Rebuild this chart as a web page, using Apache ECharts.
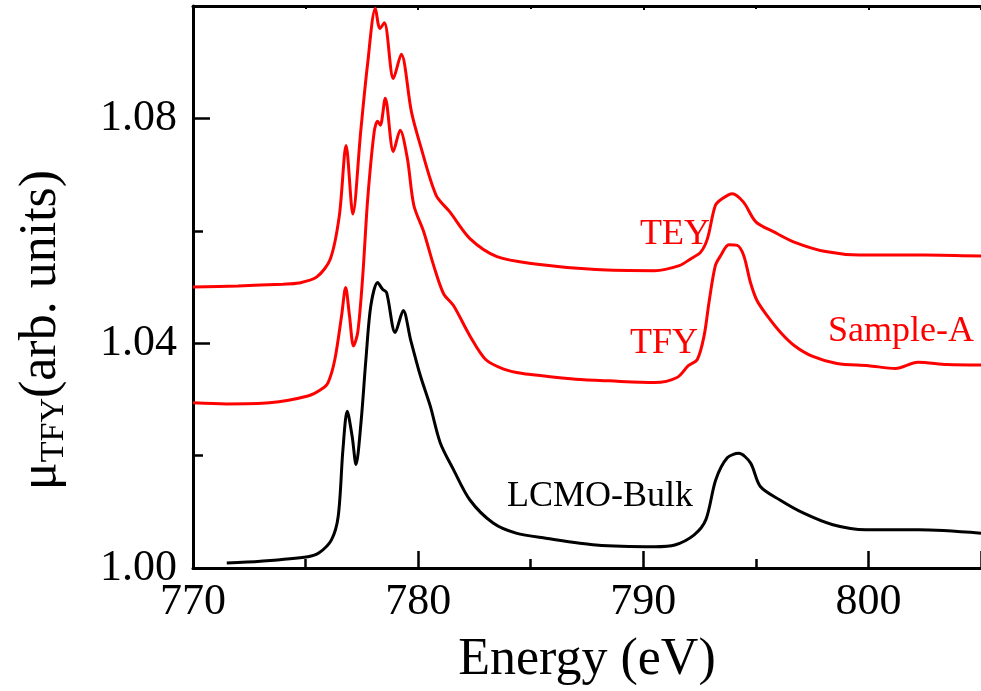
<!DOCTYPE html>
<html>
<head>
<meta charset="utf-8">
<script src="https://cdn.jsdelivr.net/npm/echarts@6/dist/echarts.min.js"></script>
<style>
  html, body { margin: 0; padding: 0; background: #fff; }
  #chart { width: 981px; height: 691px; }
</style>
</head>
<body>
<div id="chart"></div>
<script>
// TEY (sample-A)
var teyEnergy = [770.0, 772.0, 774.0, 774.7, 775.5, 776.1, 776.5, 776.8, 777.1, 777.45, 777.75, 778.1, 778.3, 778.5, 778.9, 779.25, 779.7, 780.1, 780.8, 781.4, 782.3, 783.5, 785.2, 787.9, 790.5, 791.6, 792.1, 792.55, 792.85, 793.2, 793.5, 793.95, 794.45, 795.0, 795.8, 796.7, 798.1, 799.6, 802.5, 805.0];
var teyMu = [1.0500, 1.0502, 1.0505, 1.0507, 1.0518, 1.0550, 1.0627, 1.0752, 1.0630, 1.0777, 1.0895, 1.0996, 1.0960, 1.0970, 1.0871, 1.0914, 1.0812, 1.0752, 1.0663, 1.0634, 1.0586, 1.0554, 1.0541, 1.0531, 1.0529, 1.0538, 1.0550, 1.0562, 1.0586, 1.0645, 1.0657, 1.0666, 1.0651, 1.0616, 1.0598, 1.0580, 1.0563, 1.0557, 1.0557, 1.0555];

// TFY (sample-A)
var tfyEnergy = [770.0, 771.5, 773.4, 775.1, 775.7, 776.0, 776.3, 776.6, 776.78, 776.95, 777.13, 777.32, 777.54, 777.76, 778.05, 778.2, 778.32, 778.54, 778.9, 779.2, 779.52, 779.81, 780.25, 780.69, 781.13, 781.57, 782.3, 783.0, 783.8, 784.65, 785.5, 787.0, 788.5, 790.5, 791.5, 792.0, 792.4, 792.7, 792.92, 793.2, 793.44, 793.8, 794.17, 794.46, 794.76, 795.05, 795.5, 796.1, 796.7, 797.5, 798.6, 800.0, 801.2, 802.2, 803.5, 805.0];
var tfyMu = [1.0294, 1.0292, 1.0294, 1.0306, 1.0318, 1.0330, 1.0371, 1.0449, 1.0499, 1.0449, 1.0395, 1.0420, 1.0520, 1.0657, 1.0777, 1.0795, 1.0788, 1.0836, 1.0741, 1.0779, 1.0729, 1.0645, 1.0598, 1.0538, 1.0488, 1.0467, 1.0413, 1.0371, 1.0354, 1.0346, 1.0342, 1.0336, 1.0333, 1.0330, 1.0339, 1.0360, 1.0371, 1.0413, 1.0473, 1.0538, 1.0556, 1.0575, 1.0574, 1.0556, 1.0508, 1.0476, 1.0449, 1.0419, 1.0396, 1.0377, 1.0364, 1.0360, 1.0355, 1.0366, 1.0362, 1.0361];

// LCMO bulk
var bulkEnergy = [771.5, 773.0, 775.1, 775.6, 776.15, 776.45, 776.66, 776.85, 777.07, 777.24, 777.46, 777.68, 777.9, 778.2, 778.42, 778.6, 778.98, 779.34, 779.66, 780.1, 780.54, 780.98, 781.57, 782.3, 783.33, 784.35, 785.67, 787.9, 790.5, 791.4, 792.26, 792.78, 793.22, 793.73, 794.24, 794.76, 795.2, 796.07, 797.1, 798.42, 799.88, 802.23, 805.0];
var bulkMu = [1.0009, 1.0012, 1.0020, 1.0027, 1.0050, 1.0092, 1.0211, 1.0279, 1.0234, 1.0184, 1.0258, 1.0371, 1.0467, 1.0508, 1.0496, 1.0490, 1.0419, 1.0458, 1.0407, 1.0342, 1.0288, 1.0223, 1.0175, 1.0121, 1.0080, 1.0062, 1.0053, 1.0041, 1.0038, 1.0041, 1.0059, 1.0086, 1.0157, 1.0196, 1.0204, 1.0187, 1.0145, 1.0121, 1.0098, 1.0077, 1.0068, 1.0068, 1.0062];

var xTicks = [770, 780, 790, 800];
var yTicks = [1.00, 1.04, 1.08];

function pairs(xs, ys) {
    return xs.map(function (x, i) { return [x, ys[i]]; });
}

var FONT = "'Liberation Serif', 'Times New Roman', serif";
var RED = '#ff0000';

var myChart = echarts.init(document.getElementById('chart'), null, {renderer: 'canvas'});
var option = {
    animation: false,
    backgroundColor: '#ffffff',
    grid: {
        left: 193,
        top: 6,
        right: -9,
        bottom: 122
    },
    xAxis: [{
        type: 'value',
        min: 770,
        max: 805,
        interval: 10,
        name: 'Energy (eV)',
        nameLocation: 'middle',
        nameGap: 66,
        nameTextStyle: {fontFamily: FONT, fontSize: 52, color: '#000'},
        axisLine: {lineStyle: {color: '#000', width: 3}},
        axisTick: {inside: true, length: 17, lineStyle: {color: '#000', width: 2.5}},
        minorTick: {show: true, splitNumber: 2, length: 9, lineStyle: {color: '#000', width: 2.5}},
        splitLine: {show: false},
        axisLabel: {
            fontFamily: FONT, fontSize: 44, color: '#000', margin: 12,
            showMaxLabel: false,
            formatter: function (v) { return xTicks.indexOf(v) >= 0 ? String(v) : ''; }
        }
    }, {
        // top frame
        type: 'value',
        position: 'top',
        min: 770,
        max: 805,
        interval: 10,
        axisLine: {lineStyle: {color: '#000', width: 3}},
        axisTick: {inside: true, length: 4, lineStyle: {color: '#000', width: 2}},
        minorTick: {show: true, splitNumber: 2, length: 3, lineStyle: {color: '#000', width: 2}},
        splitLine: {show: false},
        axisLabel: {show: false}
    }],
    yAxis: [{
        type: 'value',
        min: 1.00,
        max: 1.10,
        interval: 0.04,
        name: '{mu|μ}{sub|TFY}{main|(arb. units)}',
        nameLocation: 'middle',
        nameGap: 122,
        nameRotate: 90,
        nameTextStyle: {
            padding: [0, 86, 0, 0],
            rich: {
                mu: {fontFamily: FONT, fontSize: 52, color: '#000', lineHeight: 60, verticalAlign: 'middle'},
                sub: {fontFamily: FONT, fontSize: 34, color: '#000', lineHeight: 20, verticalAlign: 'bottom'},
                main: {fontFamily: FONT, fontSize: 52, color: '#000', lineHeight: 60, verticalAlign: 'middle'}
            }
        },
        axisLine: {show: true, lineStyle: {color: '#000', width: 3}},
        axisTick: {show: true, inside: true, length: 17, lineStyle: {color: '#000', width: 2.5}},
        minorTick: {show: true, splitNumber: 2, length: 10, lineStyle: {color: '#000', width: 2.5}},
        splitLine: {show: false},
        axisLabel: {
            fontFamily: FONT, fontSize: 44, color: '#000', margin: 16,
            showMaxLabel: false,
            formatter: function (v) {
                var s = v.toFixed(2);
                return yTicks.map(function (t) { return t.toFixed(2); }).indexOf(s) >= 0 ? s : '';
            }
        }
    }],
    series: [{
        name: 'TEY',
        type: 'line',
        data: pairs(teyEnergy, teyMu),
        showSymbol: false,
        smooth: 0.3,
        clip: true,
        lineStyle: {color: RED, width: 3}
    }, {
        name: 'TFY',
        type: 'line',
        data: pairs(tfyEnergy, tfyMu),
        showSymbol: false,
        smooth: 0.3,
        clip: true,
        lineStyle: {color: RED, width: 3}
    }, {
        name: 'LCMO-Bulk',
        type: 'line',
        data: pairs(bulkEnergy, bulkMu),
        showSymbol: false,
        smooth: 0.3,
        clip: true,
        lineStyle: {color: '#000', width: 3}
    }],
    graphic: [
        {type: 'text', left: 640, top: 217, style: {text: 'TEY', font: "36px " + FONT, fill: RED}},
        {type: 'text', left: 630, top: 326, style: {text: 'TFY', font: "36px " + FONT, fill: RED}},
        {type: 'text', left: 828, top: 314, style: {text: 'Sample-A', font: "36px " + FONT, fill: RED}},
        {type: 'text', left: 507, top: 479, style: {text: 'LCMO-Bulk', font: "36px " + FONT, fill: '#000'}}
    ]
}; // option
myChart.setOption(option);
window.addEventListener('resize', myChart.resize);
</script>
</body>
</html>
